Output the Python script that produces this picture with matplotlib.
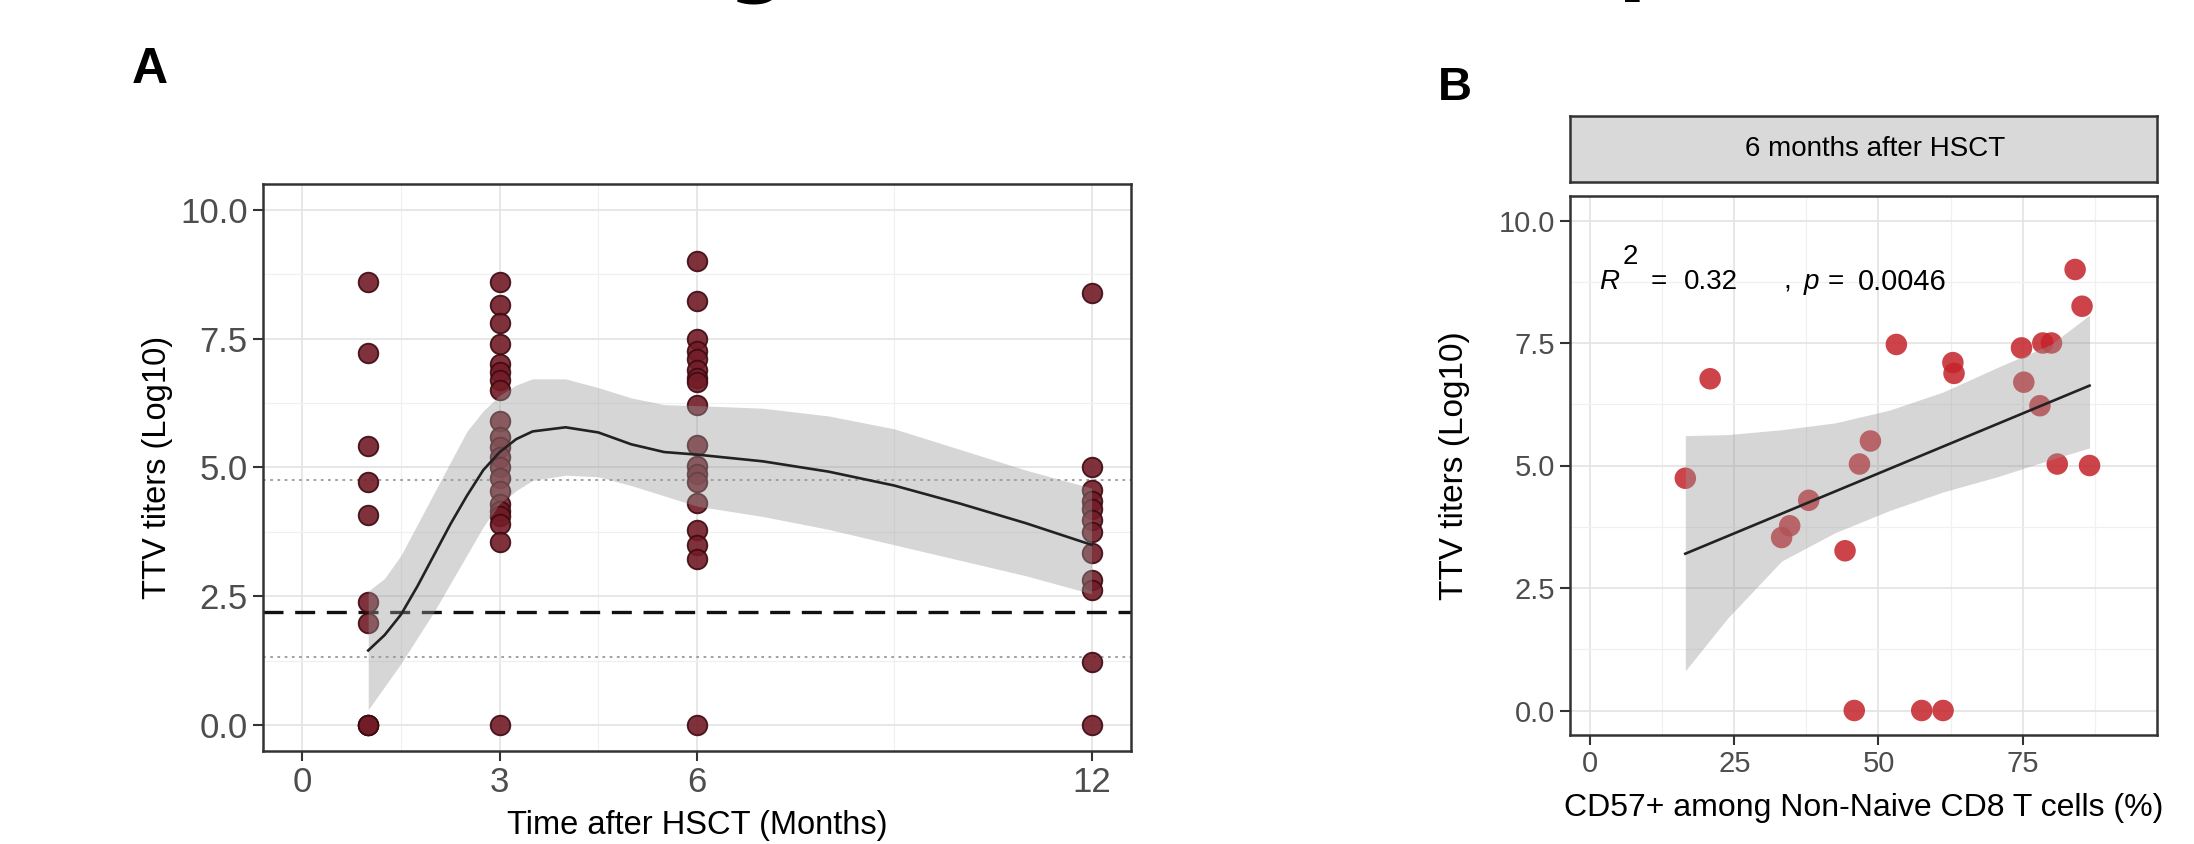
import numpy as np
import matplotlib
matplotlib.use("Agg")
import matplotlib.pyplot as plt

plt.rcParams["font.family"] = ["Liberation Sans", "DejaVu Sans"]

# ---- Panel A data: TTV titers by month after HSCT ----
month1 = [8.6, 7.22, 5.41, 4.71, 4.07, 2.4, 1.98, 0, 0, 0]
month3 = [8.6, 8.15, 7.8, 7.4, 7.0, 6.85, 6.7, 6.5, 5.9, 5.6, 5.4, 5.2, 5.0,
          4.8, 4.55, 4.3, 4.15, 4.05, 3.9, 3.55, 0]
month6 = [9.0, 8.23, 7.49, 7.26, 7.11, 6.89, 6.74, 6.66, 6.22, 5.43, 5.02,
          4.87, 4.72, 4.31, 3.79, 3.49, 3.23, 0]
month12 = [8.38, 5.0, 4.57, 4.35, 4.2, 3.98, 3.75, 3.34, 2.82, 2.63, 1.22, 0]
months = [1, 3, 6, 12]

# loess fit
fit_x = [1.0, 1.25, 1.5, 1.75, 2.0, 2.25, 2.5, 2.75, 3.0, 3.25, 3.5, 4.0, 4.5,
         5.0, 5.5, 6.0, 7.0, 8.0, 9.0, 10.0, 11.0, 12.0]
fit_y = [1.45, 1.75, 2.15, 2.7, 3.3, 3.9, 4.45, 4.95, 5.3, 5.55, 5.7, 5.78,
         5.68, 5.45, 5.3, 5.25, 5.12, 4.92, 4.65, 4.3, 3.92, 3.5]
fit_hi = [2.6, 2.85, 3.3, 3.9, 4.5, 5.1, 5.7, 6.1, 6.4, 6.6, 6.72, 6.72,
          6.55, 6.35, 6.22, 6.2, 6.15, 6.0, 5.75, 5.35, 4.95, 4.6]
fit_lo = [0.3, 0.75, 1.2, 1.7, 2.2, 2.75, 3.3, 3.85, 4.3, 4.55, 4.75, 4.85,
          4.82, 4.65, 4.45, 4.25, 4.05, 3.8, 3.5, 3.2, 2.9, 2.55]

dashed_cut = 2.2
dotted_cuts = [4.75, 1.32]

# ---- Panel B data: TTV vs CD57+ at 6 months ----
cd57 = [84.1, 85.3, 53.1, 20.8, 62.9, 63.1, 74.8, 78.5, 80.0, 75.2, 78.0,
        48.6, 46.7, 81.0, 86.6, 16.5, 37.9, 34.6, 33.2, 44.2, 45.8, 57.5, 61.2]
ttv6 = [9.0, 8.25, 7.47, 6.77, 7.1, 6.88, 7.4, 7.5, 7.5, 6.7, 6.22,
        5.5, 5.03, 5.03, 5.0, 4.74, 4.29, 3.77, 3.53, 3.26, 0, 0, 0]
lm_x = [16.5, 23.8, 33.2, 42.5, 51.9, 61.2, 70.6, 79.9, 86.6]
lm_hi = [5.61, 5.63, 5.73, 5.87, 6.13, 6.5, 7.0, 7.47, 8.07]
lm_lo = [0.81, 1.88, 3.05, 3.63, 4.08, 4.46, 4.77, 5.12, 5.36]
lm_line_x = [16.5, 86.6]
lm_line_y = [3.2, 6.63]

W, H = 2194, 844
fig = plt.figure(figsize=(W / 100, H / 100), dpi=100)


def box(x0, y0, x1, y1):
    return [x0 / W, 1 - y1 / H, (x1 - x0) / W, (y1 - y0) / H]


def style(ax, fs):
    for s in ax.spines.values():
        s.set_color("#333333")
        s.set_linewidth(1.8)
    ax.tick_params(length=7, width=1.5, color="#333333", labelsize=fs,
                   labelcolor="#4d4d4d", pad=4)
    ax.grid(which="major", color="#e3e3e3", lw=1.2)
    ax.grid(which="minor", color="#f0f0f0", lw=0.9)
    ax.set_axisbelow(True)


# ---------------- Panel A ----------------
axA = fig.add_axes(box(263, 184, 1131, 751))
style(axA, 25)
for m, vals in zip(months, [month1, month3, month6, month12]):
    axA.scatter([m] * len(vals), vals, s=200, c="#721c27", edgecolors="#3b0a10",
                linewidths=1.3, alpha=0.9, zorder=3)
axA.fill_between(fit_x, fit_lo, fit_hi, color="#999999", alpha=0.4, lw=0, zorder=4)
axA.plot(fit_x, fit_y, color="#222222", lw=1.9, zorder=5)
axA.axhline(dashed_cut, color="#111111", lw=2.4, ls=(0, (6, 3.5)), zorder=2)
for c in dotted_cuts:
    axA.axhline(c, color="#9a9a9a", lw=1.3, ls=(0, (1.5, 2.5)), zorder=2)
axA.set_xlim(-0.6, 12.6)
axA.set_ylim(-0.5, 10.5)
axA.set_xticks([0, 3, 6, 12])
axA.set_xticks([1.5, 4.5, 9], minor=True)
axA.set_yticks([0, 2.5, 5, 7.5, 10])
axA.set_yticks([1.25, 3.75, 6.25, 8.75], minor=True)
axA.tick_params(which="minor", length=0)
axA.set_yticklabels(["0.0", "2.5", "5.0", "7.5", "10.0"])
axA.set_xlabel("Time after HSCT (Months)", fontsize=23.5, va="center")
axA.set_ylabel("TTV titers (Log10)", fontsize=23.5, va="center")
axA.xaxis.set_label_coords(0.5, -0.132)
axA.yaxis.set_label_coords(-0.122, 0.5)
fig.text(150 / W, 1 - 70 / H, "A", fontsize=36, fontweight="bold",
         ha="center", va="center")

# ---------------- Panel B ----------------
axB = fig.add_axes(box(1570, 196, 2157, 735))
style(axB, 21)
axB.scatter(cd57, ttv6, s=240, c="#c4232a", edgecolors="none", alpha=0.85, zorder=3)
axB.fill_between(lm_x, lm_lo, lm_hi, color="#999999", alpha=0.4, lw=0, zorder=4)
axB.plot(lm_line_x, lm_line_y, color="#222222", lw=1.9, zorder=5)
axB.set_xlim(-3.5, 98.3)
axB.set_ylim(-0.5, 10.5)
axB.set_xticks([0, 25, 50, 75])
axB.set_xticks([12.5, 37.5, 62.5, 87.5], minor=True)
axB.set_yticks([0, 2.5, 5, 7.5, 10])
axB.set_yticks([1.25, 3.75, 6.25, 8.75], minor=True)
axB.tick_params(which="minor", length=0)
axB.set_yticklabels(["0.0", "2.5", "5.0", "7.5", "10.0"])
axB.set_xlabel("CD57+ among Non-Naive CD8 T cells (%)", fontsize=23, va="center")
axB.set_ylabel("TTV titers (Log10)", fontsize=24, va="center")
axB.xaxis.set_label_coords(0.5, -0.135)
axB.yaxis.set_label_coords(-0.196, 0.5)

# R^2 / p annotation, piece by piece as in the ggpubr label
ann_y = 8.75
axB.text(1.5, ann_y, "R", fontsize=20, style="italic", va="center", zorder=6)
axB.text(5.6, ann_y + 0.5, "2", fontsize=20, va="center", zorder=6)
axB.text(10.5, ann_y, "=", fontsize=20, va="center", zorder=6)
axB.text(16.3, ann_y, "0.32", fontsize=20, va="center", zorder=6)
axB.text(33.5, ann_y, ",", fontsize=20, va="center", zorder=6)
axB.text(37.0, ann_y, "p", fontsize=20, style="italic", va="center", zorder=6)
axB.text(41.2, ann_y, "=", fontsize=20, va="center", zorder=6)
axB.text(46.5, ann_y, "0.0046", fontsize=21, va="center", zorder=6)

strip = fig.add_axes(box(1570, 116, 2157, 182))
strip.set_facecolor("#d9d9d9")
strip.set_xticks([])
strip.set_yticks([])
for s in strip.spines.values():
    s.set_color("#333333")
    s.set_linewidth(1.8)
strip.text(0.52, 0.5, "6 months after HSCT", fontsize=20, ha="center",
           va="center", transform=strip.transAxes)
fig.text(1455 / W, 1 - 88 / H, "B", fontsize=34, fontweight="bold",
         ha="center", va="center")

# cut-off fragments of a title above the crop
fig.text(757 / W, 1 + 14 / H, "g", fontsize=60, fontweight="bold",
         ha="center", va="baseline", family="DejaVu Sans")
fig.text(1648 / W, 1 + 15 / H, "p", fontsize=60, fontweight="bold",
         ha="center", va="baseline", family="DejaVu Sans")

fig.savefig("out.png", dpi=100)
